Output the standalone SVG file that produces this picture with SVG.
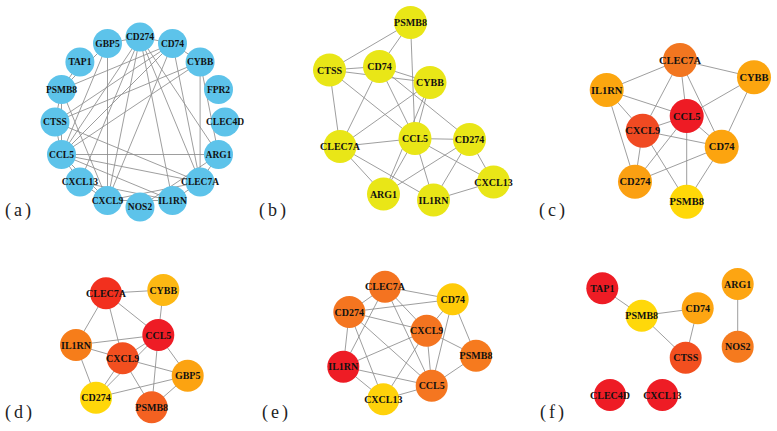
<svg xmlns="http://www.w3.org/2000/svg" width="777" height="431" viewBox="0 0 777 431">
<style>
.e{stroke:#8c8c8c;stroke-width:0.85;fill:none}
.t{font-family:"Liberation Serif","Times New Roman",serif;font-weight:bold;fill:#111;text-anchor:middle}
.ta{font-size:9.5px}
.tb{font-size:10px}
.tc{font-size:10.5px}
.pl{font-family:"Liberation Serif","Times New Roman",serif;font-size:18px;fill:#222;letter-spacing:3px}
.blue{fill:#5DC3EA}
.yel{fill:#E9E617}
</style>
<rect width="777" height="431" fill="#fff"/>
<g id="connectors">
<g id="edges-a" class="e">
<line x1="61.5" y1="89.5" x2="55" y2="122"/>
<line x1="61.5" y1="89.5" x2="172.5" y2="43.5"/>
<line x1="61.5" y1="89.5" x2="61.5" y2="154.5"/>
<line x1="55" y1="122" x2="172.5" y2="43.5"/>
<line x1="55" y1="122" x2="200.1" y2="61.9"/>
<line x1="55" y1="122" x2="200.1" y2="182.1"/>
<line x1="55" y1="122" x2="61.5" y2="154.5"/>
<line x1="172.5" y1="43.5" x2="200.1" y2="61.9"/>
<line x1="172.5" y1="43.5" x2="200.1" y2="182.1"/>
<line x1="172.5" y1="43.5" x2="61.5" y2="154.5"/>
<line x1="172.5" y1="43.5" x2="140" y2="37"/>
<line x1="200.1" y1="61.9" x2="200.1" y2="182.1"/>
<line x1="200.1" y1="61.9" x2="61.5" y2="154.5"/>
<line x1="200.1" y1="61.9" x2="218.5" y2="154.5"/>
<line x1="200.1" y1="182.1" x2="61.5" y2="154.5"/>
<line x1="200.1" y1="182.1" x2="218.5" y2="154.5"/>
<line x1="200.1" y1="182.1" x2="172.5" y2="200.5"/>
<line x1="61.5" y1="154.5" x2="140" y2="37"/>
<line x1="61.5" y1="154.5" x2="172.5" y2="200.5"/>
<line x1="61.5" y1="154.5" x2="79.9" y2="182.1"/>
<line x1="61.5" y1="154.5" x2="218.5" y2="154.5"/>
<line x1="140" y1="37" x2="79.9" y2="182.1"/>
<line x1="140" y1="37" x2="172.5" y2="200.5"/>
<line x1="140" y1="37" x2="218.5" y2="154.5"/>
<line x1="172.5" y1="200.5" x2="79.9" y2="182.1"/>
<line x1="200.1" y1="182.1" x2="107.5" y2="200.5"/>
<line x1="172.5" y1="200.5" x2="107.5" y2="200.5"/>
<line x1="61.5" y1="154.5" x2="107.5" y2="200.5"/>
<line x1="107.5" y1="200.5" x2="172.5" y2="43.5"/>
<line x1="107.5" y1="200.5" x2="140" y2="37"/>
<line x1="107.5" y1="200.5" x2="61.5" y2="89.5"/>
<line x1="61.5" y1="154.5" x2="107.5" y2="43.5"/>
<line x1="107.5" y1="200.5" x2="107.5" y2="43.5"/>
<line x1="140" y1="37" x2="107.5" y2="43.5"/>
<line x1="107.5" y1="43.5" x2="61.5" y2="89.5"/>
<line x1="200.1" y1="182.1" x2="140" y2="37"/>
<line x1="107.5" y1="200.5" x2="79.9" y2="182.1"/>
<line x1="79.9" y1="61.9" x2="61.5" y2="89.5"/>
<line x1="218.5" y1="154.5" x2="140" y2="207"/>
</g>
<g id="edges-b" class="e">
<line x1="410.5" y1="22.5" x2="329.5" y2="70"/>
<line x1="410.5" y1="22.5" x2="379.5" y2="66.5"/>
<line x1="410.5" y1="22.5" x2="415" y2="138.5"/>
<line x1="329.5" y1="70" x2="379.5" y2="66.5"/>
<line x1="329.5" y1="70" x2="430" y2="82.5"/>
<line x1="329.5" y1="70" x2="340" y2="146.5"/>
<line x1="329.5" y1="70" x2="415" y2="138.5"/>
<line x1="379.5" y1="66.5" x2="430" y2="82.5"/>
<line x1="379.5" y1="66.5" x2="340" y2="146.5"/>
<line x1="379.5" y1="66.5" x2="415" y2="138.5"/>
<line x1="379.5" y1="66.5" x2="469.5" y2="139.5"/>
<line x1="430" y1="82.5" x2="340" y2="146.5"/>
<line x1="430" y1="82.5" x2="415" y2="138.5"/>
<line x1="430" y1="82.5" x2="383.5" y2="194"/>
<line x1="340" y1="146.5" x2="415" y2="138.5"/>
<line x1="340" y1="146.5" x2="383.5" y2="194"/>
<line x1="340" y1="146.5" x2="433.5" y2="200"/>
<line x1="415" y1="138.5" x2="469.5" y2="139.5"/>
<line x1="415" y1="138.5" x2="433.5" y2="200"/>
<line x1="415" y1="138.5" x2="493.5" y2="182"/>
<line x1="415" y1="138.5" x2="383.5" y2="194"/>
<line x1="469.5" y1="139.5" x2="493.5" y2="182"/>
<line x1="469.5" y1="139.5" x2="433.5" y2="200"/>
<line x1="469.5" y1="139.5" x2="383.5" y2="194"/>
<line x1="433.5" y1="200" x2="493.5" y2="182"/>
</g>
<g id="edges-c" class="e">
<line x1="606.7" y1="90" x2="680" y2="60"/>
<line x1="680" y1="60" x2="754" y2="77.3"/>
<line x1="680" y1="60" x2="642.7" y2="130.7"/>
<line x1="680" y1="60" x2="686.7" y2="116"/>
<line x1="680" y1="60" x2="721.7" y2="146.7"/>
<line x1="606.7" y1="90" x2="686.7" y2="116"/>
<line x1="606.7" y1="90" x2="642.7" y2="130.7"/>
<line x1="606.7" y1="90" x2="635" y2="181.7"/>
<line x1="754" y1="77.3" x2="686.7" y2="116"/>
<line x1="754" y1="77.3" x2="721.7" y2="146.7"/>
<line x1="686.7" y1="116" x2="642.7" y2="130.7"/>
<line x1="686.7" y1="116" x2="721.7" y2="146.7"/>
<line x1="686.7" y1="116" x2="635" y2="181.7"/>
<line x1="686.7" y1="116" x2="686.7" y2="201.7"/>
<line x1="642.7" y1="130.7" x2="721.7" y2="146.7"/>
<line x1="642.7" y1="130.7" x2="635" y2="181.7"/>
<line x1="642.7" y1="130.7" x2="686.7" y2="201.7"/>
<line x1="721.7" y1="146.7" x2="635" y2="181.7"/>
<line x1="721.7" y1="146.7" x2="686.7" y2="201.7"/>
</g>
<g id="edges-d" class="e">
<line x1="106" y1="293.3" x2="163.3" y2="290"/>
<line x1="106" y1="293.3" x2="76" y2="345"/>
<line x1="106" y1="293.3" x2="122.7" y2="358.3"/>
<line x1="106" y1="293.3" x2="158.3" y2="335"/>
<line x1="163.3" y1="290" x2="158.3" y2="335"/>
<line x1="76" y1="345" x2="158.3" y2="335"/>
<line x1="76" y1="345" x2="122.7" y2="358.3"/>
<line x1="76" y1="345" x2="96" y2="397.7"/>
<line x1="158.3" y1="335" x2="122.7" y2="358.3"/>
<line x1="158.3" y1="335" x2="96" y2="397.7"/>
<line x1="158.3" y1="335" x2="187.7" y2="375.7"/>
<line x1="158.3" y1="335" x2="151.7" y2="407.3"/>
<line x1="122.7" y1="358.3" x2="187.7" y2="375.7"/>
<line x1="122.7" y1="358.3" x2="96" y2="397.7"/>
<line x1="122.7" y1="358.3" x2="151.7" y2="407.3"/>
<line x1="96" y1="397.7" x2="187.7" y2="375.7"/>
<line x1="187.7" y1="375.7" x2="151.7" y2="407.3"/>
</g>
<g id="edges-e" class="e">
<line x1="385" y1="286.7" x2="452.7" y2="299.3"/>
<line x1="385" y1="286.7" x2="349.3" y2="312"/>
<line x1="385" y1="286.7" x2="426.7" y2="330.7"/>
<line x1="385" y1="286.7" x2="431.7" y2="385.7"/>
<line x1="385" y1="286.7" x2="343.3" y2="366.7"/>
<line x1="349.3" y1="312" x2="452.7" y2="299.3"/>
<line x1="349.3" y1="312" x2="426.7" y2="330.7"/>
<line x1="349.3" y1="312" x2="343.3" y2="366.7"/>
<line x1="349.3" y1="312" x2="431.7" y2="385.7"/>
<line x1="349.3" y1="312" x2="383.3" y2="399.3"/>
<line x1="452.7" y1="299.3" x2="426.7" y2="330.7"/>
<line x1="452.7" y1="299.3" x2="476" y2="355.7"/>
<line x1="452.7" y1="299.3" x2="431.7" y2="385.7"/>
<line x1="426.7" y1="330.7" x2="476" y2="355.7"/>
<line x1="426.7" y1="330.7" x2="431.7" y2="385.7"/>
<line x1="426.7" y1="330.7" x2="343.3" y2="366.7"/>
<line x1="426.7" y1="330.7" x2="383.3" y2="399.3"/>
<line x1="476" y1="355.7" x2="431.7" y2="385.7"/>
<line x1="343.3" y1="366.7" x2="431.7" y2="385.7"/>
<line x1="343.3" y1="366.7" x2="383.3" y2="399.3"/>
<line x1="431.7" y1="385.7" x2="383.3" y2="399.3"/>
</g>
<g id="edges-f" class="e">
<line x1="602.3" y1="288.3" x2="641.7" y2="315.7"/>
<line x1="641.7" y1="315.7" x2="697.7" y2="308.3"/>
<line x1="641.7" y1="315.7" x2="685.7" y2="357.7"/>
<line x1="697.7" y1="308.3" x2="685.7" y2="357.7"/>
<line x1="737.7" y1="284" x2="737.7" y2="346.7"/>
</g>
</g>
<g id="panel-a">
<g id="a-CD274"><circle class="blue" cx="140" cy="37" r="14.5"/><text class="t ta" x="140" y="40.3">CD274</text></g>
<g id="a-CD74"><circle class="blue" cx="172.5" cy="43.5" r="14.5"/><text class="t ta" x="172.5" y="46.8">CD74</text></g>
<g id="a-CYBB"><circle class="blue" cx="200.1" cy="61.9" r="14.5"/><text class="t ta" x="200.1" y="65.2">CYBB</text></g>
<g id="a-FPR2"><circle class="blue" cx="218.5" cy="89.5" r="14.5"/><text class="t ta" x="218.5" y="92.8">FPR2</text></g>
<g id="a-CLEC4D"><circle class="blue" cx="225" cy="122" r="14.5"/><text class="t ta" x="225" y="125.3">CLEC4D</text></g>
<g id="a-ARG1"><circle class="blue" cx="218.5" cy="154.5" r="14.5"/><text class="t ta" x="218.5" y="157.8">ARG1</text></g>
<g id="a-CLEC7A"><circle class="blue" cx="200.1" cy="182.1" r="14.5"/><text class="t ta" x="200.1" y="185.4">CLEC7A</text></g>
<g id="a-IL1RN"><circle class="blue" cx="172.5" cy="200.5" r="14.5"/><text class="t ta" x="172.5" y="203.8">IL1RN</text></g>
<g id="a-NOS2"><circle class="blue" cx="140" cy="207" r="14.5"/><text class="t ta" x="140" y="210.3">NOS2</text></g>
<g id="a-CXCL9"><circle class="blue" cx="107.5" cy="200.5" r="14.5"/><text class="t ta" x="107.5" y="203.8">CXCL9</text></g>
<g id="a-CXCL13"><circle class="blue" cx="79.9" cy="182.1" r="14.5"/><text class="t ta" x="79.9" y="185.4">CXCL13</text></g>
<g id="a-CCL5"><circle class="blue" cx="61.5" cy="154.5" r="14.5"/><text class="t ta" x="61.5" y="157.8">CCL5</text></g>
<g id="a-CTSS"><circle class="blue" cx="55" cy="122" r="14.5"/><text class="t ta" x="55" y="125.3">CTSS</text></g>
<g id="a-PSMB8"><circle class="blue" cx="61.5" cy="89.5" r="14.5"/><text class="t ta" x="61.5" y="92.8">PSMB8</text></g>
<g id="a-TAP1"><circle class="blue" cx="79.9" cy="61.9" r="14.5"/><text class="t ta" x="79.9" y="65.2">TAP1</text></g>
<g id="a-GBP5"><circle class="blue" cx="107.5" cy="43.5" r="14.5"/><text class="t ta" x="107.5" y="46.8">GBP5</text></g>
</g>
<g id="panel-b">
<g id="b-PSMB8"><circle class="yel" cx="410.5" cy="22.5" r="16.5"/><text class="t tb" x="410.5" y="26">PSMB8</text></g>
<g id="b-CTSS"><circle class="yel" cx="329.5" cy="70" r="16.5"/><text class="t tb" x="329.5" y="73.5">CTSS</text></g>
<g id="b-CD74"><circle class="yel" cx="379.5" cy="66.5" r="16.5"/><text class="t tb" x="379.5" y="70">CD74</text></g>
<g id="b-CYBB"><circle class="yel" cx="430" cy="82.5" r="16.5"/><text class="t tb" x="430" y="86">CYBB</text></g>
<g id="b-CLEC7A"><circle class="yel" cx="340" cy="146.5" r="16.5"/><text class="t tb" x="340" y="150">CLEC7A</text></g>
<g id="b-CCL5"><circle class="yel" cx="415" cy="138.5" r="16.5"/><text class="t tb" x="415" y="142">CCL5</text></g>
<g id="b-CD274"><circle class="yel" cx="469.5" cy="139.5" r="16.5"/><text class="t tb" x="469.5" y="143">CD274</text></g>
<g id="b-ARG1"><circle class="yel" cx="383.5" cy="194" r="16.5"/><text class="t tb" x="383.5" y="197.5">ARG1</text></g>
<g id="b-IL1RN"><circle class="yel" cx="433.5" cy="200" r="16.5"/><text class="t tb" x="433.5" y="203.5">IL1RN</text></g>
<g id="b-CXCL13"><circle class="yel" cx="493.5" cy="182" r="16.5"/><text class="t tb" x="493.5" y="185.5">CXCL13</text></g>
</g>
<g id="panel-c">
<g id="c-CLEC7A"><circle fill="#F27620" cx="680" cy="60" r="17"/><text class="t tc" x="680" y="63.6">CLEC7A</text></g>
<g id="c-CYBB"><circle fill="#FCA50F" cx="754" cy="77.3" r="17"/><text class="t tc" x="754" y="80.9">CYBB</text></g>
<g id="c-IL1RN"><circle fill="#FCA60F" cx="606.7" cy="90" r="17"/><text class="t tc" x="606.7" y="93.6">IL1RN</text></g>
<g id="c-CCL5"><circle fill="#EE1B24" cx="686.7" cy="116" r="17"/><text class="t tc" x="686.7" y="119.6">CCL5</text></g>
<g id="c-CXCL9"><circle fill="#F04A22" cx="642.7" cy="130.7" r="17"/><text class="t tc" x="642.7" y="134.3">CXCL9</text></g>
<g id="c-CD74"><circle fill="#FCA40F" cx="721.7" cy="146.7" r="17"/><text class="t tc" x="721.7" y="150.3">CD74</text></g>
<g id="c-CD274"><circle fill="#FBA012" cx="635" cy="181.7" r="17"/><text class="t tc" x="635" y="185.3">CD274</text></g>
<g id="c-PSMB8"><circle fill="#FFD808" cx="686.7" cy="201.7" r="17"/><text class="t tc" x="686.7" y="205.3">PSMB8</text></g>
</g>
<g id="panel-d">
<g id="d-CLEC7A"><circle fill="#F2301E" cx="106" cy="293.3" r="16"/><text class="t tb" x="106" y="296.8">CLEC7A</text></g>
<g id="d-CYBB"><circle fill="#FDB813" cx="163.3" cy="290" r="16"/><text class="t tb" x="163.3" y="293.5">CYBB</text></g>
<g id="d-CCL5"><circle fill="#EE1C25" cx="158.3" cy="335" r="16"/><text class="t tb" x="158.3" y="338.5">CCL5</text></g>
<g id="d-IL1RN"><circle fill="#F67D1A" cx="76" cy="345" r="16"/><text class="t tb" x="76" y="348.5">IL1RN</text></g>
<g id="d-CXCL9"><circle fill="#F24F1F" cx="122.7" cy="358.3" r="16"/><text class="t tb" x="122.7" y="361.8">CXCL9</text></g>
<g id="d-GBP5"><circle fill="#FCA311" cx="187.7" cy="375.7" r="16"/><text class="t tb" x="187.7" y="379.2">GBP5</text></g>
<g id="d-CD274"><circle fill="#FFD70A" cx="96" cy="397.7" r="16"/><text class="t tb" x="96" y="401.2">CD274</text></g>
<g id="d-PSMB8"><circle fill="#F46121" cx="151.7" cy="407.3" r="16"/><text class="t tb" x="151.7" y="410.8">PSMB8</text></g>
</g>
<g id="panel-e">
<g id="e-CLEC7A"><circle fill="#F47320" cx="385" cy="286.7" r="16"/><text class="t tb" x="385" y="290.2">CLEC7A</text></g>
<g id="e-CD74"><circle fill="#FFCB08" cx="452.7" cy="299.3" r="16"/><text class="t tb" x="452.7" y="302.8">CD74</text></g>
<g id="e-CD274"><circle fill="#F47520" cx="349.3" cy="312" r="16"/><text class="t tb" x="349.3" y="315.5">CD274</text></g>
<g id="e-CXCL9"><circle fill="#F47420" cx="426.7" cy="330.7" r="16"/><text class="t tb" x="426.7" y="334.2">CXCL9</text></g>
<g id="e-PSMB8"><circle fill="#F67A1E" cx="476" cy="355.7" r="16"/><text class="t tb" x="476" y="359.2">PSMB8</text></g>
<g id="e-IL1RN"><circle fill="#EE1C25" cx="343.3" cy="366.7" r="16"/><text class="t tb" x="343.3" y="370.2">IL1RN</text></g>
<g id="e-CCL5"><circle fill="#F57620" cx="431.7" cy="385.7" r="16"/><text class="t tb" x="431.7" y="389.2">CCL5</text></g>
<g id="e-CXCL13"><circle fill="#FFD20A" cx="383.3" cy="399.3" r="16"/><text class="t tb" x="383.3" y="402.8">CXCL13</text></g>
</g>
<g id="panel-f">
<g id="f-TAP1"><circle fill="#EE1C25" cx="602.3" cy="288.3" r="16"/><text class="t tb" x="602.3" y="291.8">TAP1</text></g>
<g id="f-PSMB8"><circle fill="#FFD80A" cx="641.7" cy="315.7" r="16"/><text class="t tb" x="641.7" y="319.2">PSMB8</text></g>
<g id="f-CD74"><circle fill="#FDA512" cx="697.7" cy="308.3" r="16"/><text class="t tb" x="697.7" y="311.8">CD74</text></g>
<g id="f-ARG1"><circle fill="#FDA512" cx="737.7" cy="284" r="16"/><text class="t tb" x="737.7" y="287.5">ARG1</text></g>
<g id="f-CTSS"><circle fill="#F24F1F" cx="685.7" cy="357.7" r="16"/><text class="t tb" x="685.7" y="361.2">CTSS</text></g>
<g id="f-NOS2"><circle fill="#F57A1E" cx="737.7" cy="346.7" r="16"/><text class="t tb" x="737.7" y="350.2">NOS2</text></g>
<g id="f-CLEC4D"><circle fill="#EE1C25" cx="610" cy="395" r="16"/><text class="t tb" x="610" y="398.5">CLEC4D</text></g>
<g id="f-CXCL13"><circle fill="#EE1C25" cx="662.3" cy="395" r="16"/><text class="t tb" x="662.3" y="398.5">CXCL13</text></g>
</g>
<g id="panel-labels">
<text class="pl" x="5" y="216">(a)</text>
<text class="pl" x="259" y="216">(b)</text>
<text class="pl" x="539" y="216">(c)</text>
<text class="pl" x="5" y="418">(d)</text>
<text class="pl" x="262" y="418">(e)</text>
<text class="pl" x="540" y="418">(f)</text>
</g>
</svg>
